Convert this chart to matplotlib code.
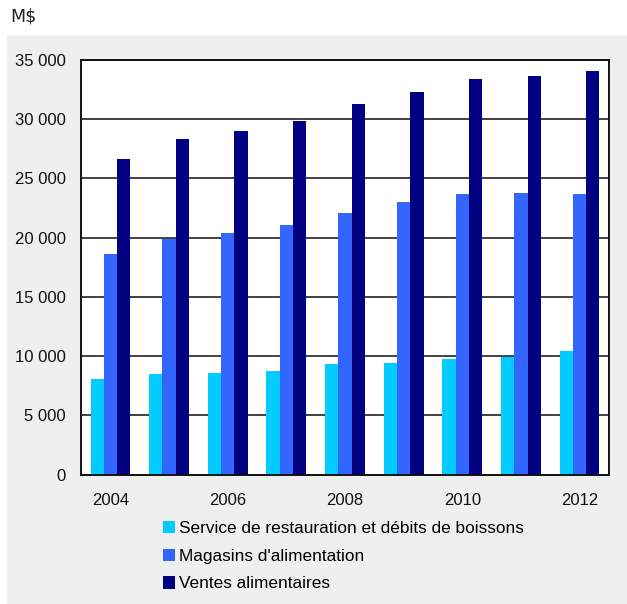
import matplotlib
matplotlib.use("Agg")
import matplotlib.pyplot as plt
from matplotlib.patches import Rectangle, Patch
from matplotlib.ticker import FuncFormatter
import numpy as np

years = [2004, 2005, 2006, 2007, 2008, 2009, 2010, 2011, 2012]
service = [8060, 8480, 8570, 8740, 9330, 9410, 9750, 9920, 10420]
magasins = [18590, 19860, 20360, 21040, 22045, 22970, 23640, 23720, 23640]
ventes = [26630, 28320, 28990, 29840, 31290, 32300, 33390, 33640, 34060]
series_names = ["Service de restauration et débits de boissons",
                "Magasins d'alimentation",
                "Ventes alimentaires"]
colors = ["#00CCFF", "#3366FF", "#000080"]
tick_years = [2004, 2006, 2008, 2010, 2012]

W, H = 627, 604
fig = plt.figure(figsize=(W / 100, H / 100), dpi=100, facecolor="white")
plt.rcParams['font.family'] = ['Liberation Sans', 'DejaVu Sans']

# grey panel
fig.patches.append(Rectangle((7 / W, 0), 1 - 7 / W, 1 - 35 / H,
                             transform=fig.transFigure, facecolor="#EFEFEF",
                             edgecolor="none", zorder=-10))

ax = fig.add_axes([81.2 / W, 1 - 474.7 / H, (608.8 - 81.2) / W, (474.7 - 59.7) / H])
ax.set_facecolor("white")

x = np.arange(len(years))
bw = 0.227
for i, (vals, c, n) in enumerate(zip([service, magasins, ventes], colors, series_names)):
    ax.bar(x + (i - 1) * bw, vals, width=bw, color=c, label=n, zorder=3)

ax.set_xlim(-0.5, len(years) - 0.5)
ax.set_ylim(0, 35000)
ax.set_yticks(np.arange(0, 35001, 5000))
ax.yaxis.set_major_formatter(FuncFormatter(lambda v, p: f"{int(v):,}".replace(",", " ")))
ax.set_xticks([years.index(y) for y in tick_years])
ax.set_xticklabels([str(y) for y in tick_years])
ax.tick_params(axis="both", length=0, labelsize=12, colors="#111111")
ax.tick_params(axis="y", pad=11)
ax.tick_params(axis="x", pad=13.5)
ax.grid(axis="y", color="#333333", linewidth=1.3, zorder=1)
for s in ax.spines.values():
    s.set_color("#111111")
    s.set_linewidth(1.4)
    s.set_zorder(4)

fig.text(10 / W, 1 - 17 / H, "M$", fontsize=12.5, family="DejaVu Sans",
         va="center", ha="left", color="#222222")

handles = [Patch(facecolor=c, edgecolor="none") for c in colors]
leg = fig.legend(handles, series_names, loc="upper left",
                 bbox_to_anchor=(156 / W, 1 - 514 / H), frameon=False,
                 fontsize=12.45, handlelength=0.72, handleheight=0.72,
                 handletextpad=0.2, labelspacing=0.72, borderaxespad=0)

fig.savefig("out.png", dpi=100, facecolor="white")
